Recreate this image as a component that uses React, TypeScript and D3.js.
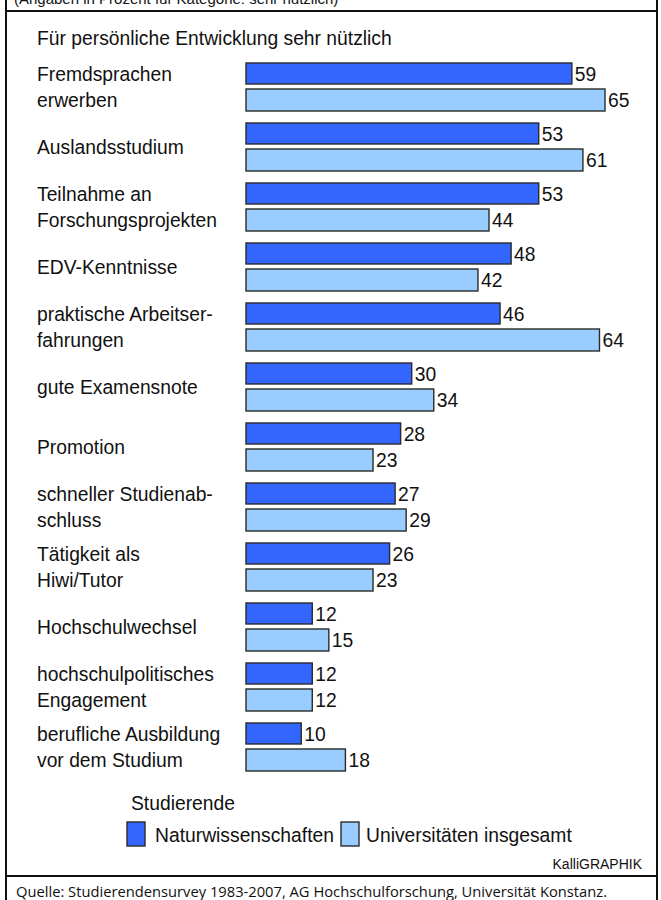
import React from "react";
import * as d3 from "d3";

const categories: string[][] = [
  ["Fremdsprachen", "erwerben"],
  ["Auslandsstudium"],
  ["Teilnahme an", "Forschungsprojekten"],
  ["EDV-Kenntnisse"],
  ["praktische Arbeitser-", "fahrungen"],
  ["gute Examensnote"],
  ["Promotion"],
  ["schneller Studienab-", "schluss"],
  ["Tätigkeit als", "Hiwi/Tutor"],
  ["Hochschulwechsel"],
  ["hochschulpolitisches", "Engagement"],
  ["berufliche Ausbildung", "vor dem Studium"],
];
const naturwissenschaften: number[] = [59, 53, 53, 48, 46, 30, 28, 27, 26, 12, 12, 10];
const universitaeten: number[] = [65, 61, 44, 42, 64, 34, 23, 29, 23, 15, 12, 18];
const seriesNames: string[] = ["Naturwissenschaften", "Universitäten insgesamt"];
const colors: string[] = ["#3366FF", "#99CCFF"];

const W = 661;
const H = 900;
const FONT = "'Liberation Sans', Arial, sans-serif";
const FS = 19.3;

export default function App() {
  const x = d3.scaleLinear().domain([0, 65]).range([246, 605]);
  const y = d3
    .scaleBand<number>()
    .domain(d3.range(categories.length))
    .range([63, 63 + 60 * categories.length])
    .paddingInner(0)
    .paddingOuter(0);
  const barH = [21, 22];
  const barOff = [0, 26];

  return (
    <svg
      width={W}
      height={H}
      viewBox={`0 0 ${W} ${H}`}
      style={{ position: "absolute", left: 0, top: 0, background: "#fff" }}
    >
      <rect x={0} y={0} width={W} height={H} fill="#fff" />
      {/* cut-off header */}
      <text x={14} y={4} fontFamily={FONT} fontSize={15} fill="#111">
        (Angaben in Prozent für Kategorie: sehr nützlich)
      </text>
      {/* frame */}
      <line x1={6} x2={6} y1={0} y2={H} stroke="#111" strokeWidth={2} />
      <line x1={657} x2={657} y1={0} y2={H} stroke="#111" strokeWidth={2} />
      <line x1={6} x2={657} y1={11} y2={11} stroke="#111" strokeWidth={2} />
      <line x1={6} x2={657} y1={876} y2={876} stroke="#111" strokeWidth={2} />

      <text x={37} y={45} fontFamily={FONT} fontSize={FS} fill="#111">
        Für persönliche Entwicklung sehr nützlich
      </text>

      {categories.map((lines, i) => {
        const top = y(i) as number;
        const cy = top + 24;
        const vals = [naturwissenschaften[i], universitaeten[i]];
        return (
          <g key={i}>
            {lines.map((ln, j) => (
              <text
                key={j}
                x={37}
                y={cy + 7 + (lines.length === 1 ? 0 : j === 0 ? -13 : 13)}
                fontFamily={FONT}
                fontSize={FS}
                fill="#111"
              >
                {ln}
              </text>
            ))}
            {vals.map((v, s) => {
              const by = top + barOff[s];
              return (
                <g key={s}>
                  <rect
                    x={x(0)}
                    y={by}
                    width={x(v) - x(0)}
                    height={barH[s]}
                    fill={colors[s]}
                    stroke="#2a2a2a"
                    strokeWidth={1.4}
                  />
                  <text
                    x={x(v) + 3}
                    y={by + barH[s] / 2 + 7}
                    fontFamily={FONT}
                    fontSize={FS}
                    fill="#111"
                  >
                    {v}
                  </text>
                </g>
              );
            })}
          </g>
        );
      })}

      {/* legend */}
      <text x={131} y={810} fontFamily={FONT} fontSize={FS} fill="#111">
        Studierende
      </text>
      <rect x={127} y={822} width={18} height={24} fill={colors[0]} stroke="#2a2a2a" strokeWidth={1.4} />
      <text x={155} y={842} fontFamily={FONT} fontSize={FS} fill="#111">
        {seriesNames[0]}
      </text>
      <rect x={341} y={822} width={18} height={24} fill={colors[1]} stroke="#2a2a2a" strokeWidth={1.4} />
      <text x={366} y={842} fontFamily={FONT} fontSize={FS} fill="#111">
        {seriesNames[1]}
      </text>

      <text x={642} y={869} textAnchor="end" fontFamily={FONT} fontSize={14} fill="#111">
        KalliGRAPHIK
      </text>

      <text x={16} y={897} fontFamily="'Open Sans', 'Noto Sans', sans-serif" fontSize={14.5} fill="#111" textLength={591} lengthAdjust="spacingAndGlyphs">
        Quelle: Studierendensurvey 1983-2007, AG Hochschulforschung, Universität Konstanz.
      </text>
    </svg>
  );
}
